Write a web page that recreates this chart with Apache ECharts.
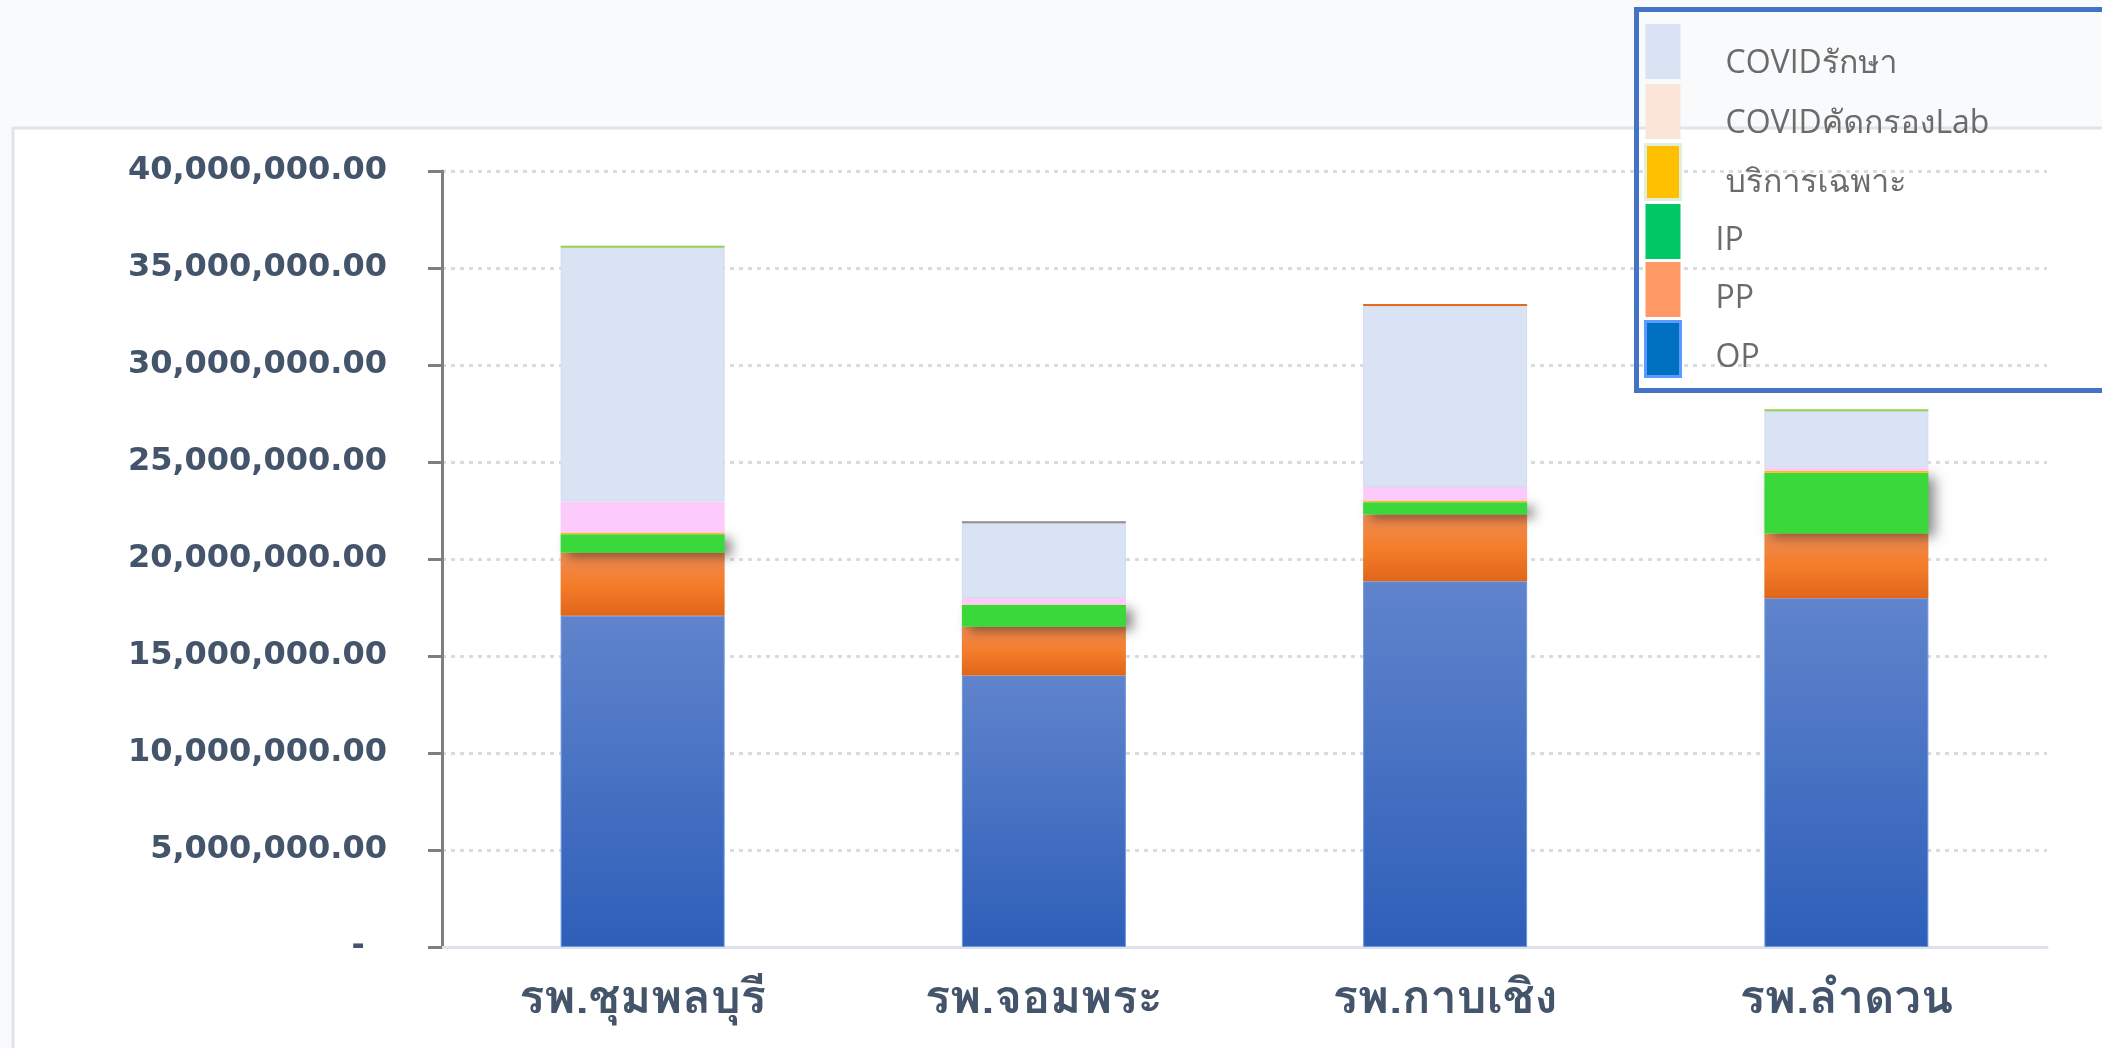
<!DOCTYPE html>
<html>
<head>
<meta charset="utf-8">
<title>chart</title>
<script src="https://cdn.jsdelivr.net/npm/echarts@6.0.0/dist/echarts.min.js"></script>
<style>
  html, body { margin: 0; padding: 0; background: #f9fafb; }
  #main { width: 2102px; height: 1048px; }
</style>
</head>
<body>
<div id="main"></div>
<script>
// hospitals on x axis
var categories = ['รพ.ชุมพลบุรี', 'รพ.จอมพระ', 'รพ.กาบเชิง', 'รพ.ลำดวน'];
// stacked values (baht), bottom to top
var opValues = [17080000, 14000000, 18850000, 17980000];
var ppValues = [3240000, 2510000, 3450000, 3340000];
var ipValues = [950000, 1120000, 620000, 3120000];
var specialValues = [70000, 20000, 70000, 90000];      // บริการเฉพาะ
var covidLabValues = [1630000, 340000, 720000, 190000]; // COVIDคัดกรองLab
var covidTreatValues = [13080000, 3850000, 9330000, 2900000]; // COVIDรักษา
// thin coloured line on top of every bar
var capValues = [100000, 100000, 100000, 100000];
var capColors = ['#92d050', '#8c8c8c', '#e46c1a', '#92d050'];
var legendNames = ['COVIDรักษา', 'COVIDคัดกรองLab', 'บริการเฉพาะ', 'IP', 'PP', 'OP'];

var thaiFont = 'Tahoma, Loma, Garuda, "Noto Sans Thai Looped", "Noto Sans Thai", "Noto Sans", "DejaVu Sans", sans-serif';
var legendFont = '"Open Sans", Loma, Garuda, "Noto Sans Thai", "Noto Sans", sans-serif';
var chart = echarts.init(document.getElementById('main'));

function fmt(v) {
    if (v === 0) return '-  ';
    return v.toLocaleString('en-US', {minimumFractionDigits: 2, maximumFractionDigits: 2});
}

var grad = function (stops) {
    return new echarts.graphic.LinearGradient(0, 0, 0, 1, stops);
};

var option = {
    animation: false,
    backgroundColor: 'transparent',
    graphic: [
        {
            type: 'rect', z: -10, silent: true,
            shape: {x: 13, y: 128, width: 2100, height: 960},
            style: {fill: '#ffffff', stroke: '#dfe4ec', lineWidth: 3}
        },
        {
            type: 'rect', z: 100, silent: true,
            shape: {x: 1636.5, y: 9.5, width: 520, height: 381},
            style: {fill: 'none', stroke: '#4472c4', lineWidth: 5}
        }
    ],
    grid: {left: 442, right: 55, top: 171, bottom: 101},
    legend: {
        orient: 'vertical',
        left: 1644,
        top: 23,
        padding: 0,
        itemWidth: 35,
        itemHeight: 55,
        itemGap: 3,
        icon: 'rect',
        // empty first line pushes the name a little below the swatch centre
        formatter: function (name) { return '\n' + name; },
        textStyle: {fontSize: 32, lineHeight: 18, color: '#6b6b6b', fontFamily: legendFont, padding: [0, 0, 0, 30]},
        data: [
            {name: legendNames[0], itemStyle: {color: '#dae3f3', borderWidth: 0},
                textStyle: {lineHeight: 25, padding: [0, 0, 0, 40]}},
            {name: legendNames[1], itemStyle: {color: '#fbe5d6', borderWidth: 0},
                textStyle: {lineHeight: 25, padding: [0, 0, 0, 40]}},
            {name: legendNames[2], itemStyle: {color: '#ffc000', borderColor: '#e2efda', borderWidth: 3},
                textStyle: {lineHeight: 22, padding: [0, 0, 0, 40]}},
            {name: legendNames[3], itemStyle: {color: '#00c864', borderWidth: 0}},
            {name: legendNames[4], itemStyle: {color: '#ff9966', borderWidth: 0}},
            {name: legendNames[5], itemStyle: {color: '#0070c0', borderColor: '#5b9bff', borderWidth: 3}}
        ]
    },
    xAxis: {
        type: 'category',
        data: categories,
        axisLine: {show: true, lineStyle: {color: '#dde2ea', width: 3}},
        axisTick: {show: false},
        axisLabel: {fontSize: 47, fontWeight: 'bold', color: '#44546a', fontFamily: thaiFont, margin: 32},
        splitLine: {show: false}
    },
    yAxis: {
        type: 'value',
        min: 0,
        max: 40000000,
        interval: 5000000,
        axisLine: {show: true, lineStyle: {color: '#7f7f7f', width: 3}},
        axisTick: {show: true, length: 14, lineStyle: {color: '#7f7f7f', width: 3}},
        axisLabel: {
            fontSize: 32, fontWeight: 'bold', color: '#44546a',
            fontFamily: '"DejaVu Sans", Verdana, sans-serif', margin: 55,
            formatter: fmt
        },
        splitLine: {show: true, lineStyle: {color: '#d6dce5', width: 3, type: [4, 5]}}
    },
    series: [
        {
            name: 'OP', type: 'bar', stack: 'total', barWidth: 164, data: opValues,
            itemStyle: {
                color: grad([{offset: 0, color: '#6084cc'}, {offset: 1, color: '#2e5fb9'}]),
                borderColor: '#6d95e0', borderWidth: 1
            }
        },
        {
            name: 'PP', type: 'bar', stack: 'total', data: ppValues,
            itemStyle: {color: grad([{offset: 0, color: '#ef8d55'}, {offset: 0.5, color: '#f47d2a'}, {offset: 1, color: '#e0661a'}])}
        },
        {
            name: 'IP', type: 'bar', stack: 'total', data: ipValues,
            itemStyle: {
                color: '#3ad83a',
                shadowColor: 'rgba(0,0,0,0.45)', shadowBlur: 12, shadowOffsetX: 7, shadowOffsetY: 4
            }
        },
        {
            name: 'บริการเฉพาะ', type: 'bar', stack: 'total', data: specialValues,
            itemStyle: {color: '#ffc000'}
        },
        {
            name: 'COVIDคัดกรองLab', type: 'bar', stack: 'total', data: covidLabValues,
            itemStyle: {color: '#fccbfc'}
        },
        {
            name: 'COVIDรักษา', type: 'bar', stack: 'total', data: covidTreatValues,
            itemStyle: {color: '#dae3f3', borderColor: '#d2dcef', borderWidth: 1}
        },
        {
            name: 'cap', type: 'bar', stack: 'total',
            data: capValues.map(function (v, i) {
                return {value: v, itemStyle: {color: capColors[i]}};
            })
        }
    ]
};

chart.setOption(option);
</script>
</body>
</html>
